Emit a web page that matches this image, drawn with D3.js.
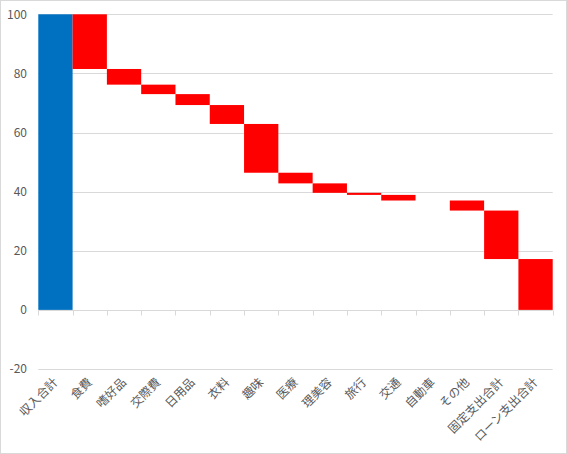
<!DOCTYPE html>
<html><head><meta charset="utf-8">
<script src="https://cdn.jsdelivr.net/npm/d3@7"></script>
<style>body{margin:0;background:#fff}svg{display:block}</style>
</head><body>
<script>
const categories = ["収入合計","食費","嗜好品","交際費","日用品","衣料","趣味","医療","理美容","旅行","交通","自動車","その他","固定支出合計","ローン支出合計"];
const income = 100;
const expenses = [18.5, 5.3, 3.2, 3.7, 6.4, 16.5, 3.6, 3.2, 0.7, 1.9, 0, 3.4, 16.4, 17.2];
const yTicks = [-20, 0, 20, 40, 60, 80, 100];

const W = 567, H = 454;
const m = {left: 38.3, right: 14.3, top: 14.3, bottom: 85};
const svg = d3.select("body").append("svg").attr("width", W).attr("height", H);
svg.append("rect").attr("x",0.5).attr("y",0.5).attr("width",W-1).attr("height",H-1)
  .attr("fill","#fff").attr("stroke","#d9d9d9");

const x = d3.scaleBand().domain(categories).range([m.left, W - m.right]).padding(0);
const y = d3.scaleLinear().domain([-20, 100]).range([369.0, 14.3]);

// gridlines
svg.append("g").selectAll("line").data(yTicks.filter(d=>d!==0)).join("line")
  .attr("x1", m.left).attr("x2", W - m.right)
  .attr("y1", d=>Math.round(y(d))+0.5).attr("y2", d=>Math.round(y(d))+0.5)
  .attr("stroke","#d9d9d9").attr("stroke-width",1);

// bars
const segs = [];
segs.push({cat: categories[0], top: income, bottom: 0, color: "#0070c0"});
let level = income;
expenses.forEach((v,i)=>{
  segs.push({cat: categories[i+1], top: level, bottom: level - v, color: "#ff0000"});
  level -= v;
});
svg.append("g").selectAll("rect").data(segs.filter(s=>s.top!==s.bottom)).join("rect")
  .attr("x", d=>x(d.cat)).attr("width", x.bandwidth())
  .attr("y", d=>y(d.top)).attr("height", d=>y(d.bottom)-y(d.top))
  .attr("fill", d=>d.color);

// zero axis line
const y0 = Math.round(y(0))+0.5;
svg.append("line").attr("x1", m.left).attr("x2", W-m.right).attr("y1", y0).attr("y2", y0)
  .attr("stroke","#d9d9d9");
// x ticks at band boundaries
const bounds = categories.map(c=>x(c)).concat([x(categories[categories.length-1])+x.bandwidth()]);
svg.append("g").selectAll("line").data(bounds).join("line")
  .attr("x1", d=>Math.round(d)+0.5).attr("x2", d=>Math.round(d)+0.5)
  .attr("y1", y0).attr("y2", y0+5).attr("stroke","#d9d9d9");

// y axis labels
const yAxis = d3.axisLeft(y).tickValues(yTicks).tickSize(0).tickPadding(0).tickFormat(d=>String(d));
const ga = svg.append("g").attr("transform", `translate(${27},0)`).call(yAxis);
ga.select(".domain").remove();
ga.selectAll("text").attr("fill","#595959").attr("font-size","12px")
  .attr("font-family","'Noto Sans CJK JP', 'Noto Sans', sans-serif");

// x labels
svg.append("g").selectAll("text").data(categories).join("text")
  .attr("transform", d=>`translate(${x(d)+x.bandwidth()/2+3},${383}) rotate(-45)`)
  .attr("text-anchor","end")
  .attr("fill","#595959").attr("font-size","12px")
  .attr("font-family","'Noto Sans CJK JP', sans-serif")
  .text(d=>d);
</script>
</body></html>
